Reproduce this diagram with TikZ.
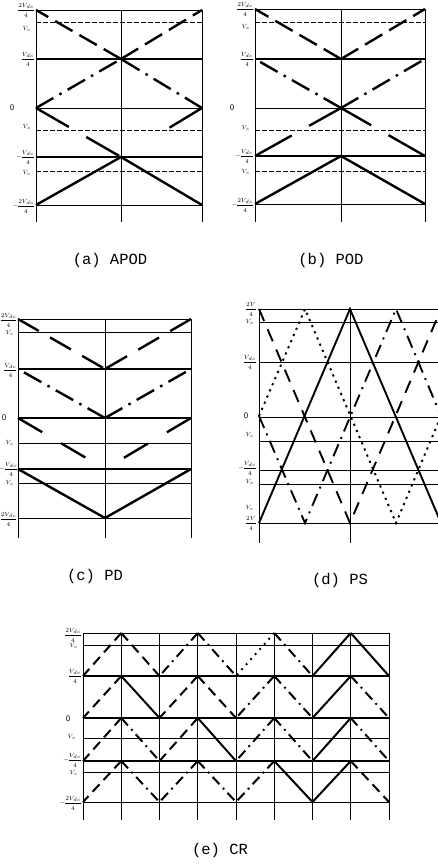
\documentclass[tikz,border=0pt]{standalone}
\usepackage{fontspec}
\newfontfamily\capfont{Liberation Mono}
\begin{document}
\begin{tikzpicture}[x=1pt,y=-1pt,
  gline/.style={line width=0.9pt},
  mline/.style={line width=1.3pt},
  vcl/.style={line width=0.6pt,dash pattern=on 5pt off 2pt},
  vcs/.style={line width=0.7pt},
  car/.style={line width=2.4pt},
  cartwo/.style={line width=1.9pt},
  ecar/.style={line width=2pt},
  cdash/.style={dash pattern=on 20pt off 8pt},
  cdashdot/.style={dash pattern=on 20pt off 7pt on 2.5pt off 7pt},
  clong/.style={dash pattern=on 38pt off 20pt},
  cdots/.style={dash pattern=on 2.2pt off 4.5pt},
  cD/.style={dash pattern=on 10pt off 6pt},
  cM/.style={dash pattern=on 10pt off 5pt on 1.8pt off 5pt},
  cT/.style={dash pattern=on 1.8pt off 5pt},
  cS/.style={solid},
  lab/.style={font={\fontsize{6}{6}\selectfont\nulldelimiterspace=0pt\relax}, inner sep=0pt, anchor=east},
  zero/.style={font=\fontsize{8.5}{8.5}\selectfont\sffamily, inner sep=0pt},
  captxt/.style={font=\capfont\fontsize{15.5}{18}\selectfont, inner sep=0pt}
]
\useasboundingbox (0,0) rectangle (438,867);

% ---------------- (a) APOD ----------------
\foreach \x in {36,121,202} \draw[gline] (\x,10) -- (\x,222);
\foreach \y in {10,108,205} \draw[gline] (36,\y) -- (202,\y);
\foreach \y in {59,157} \draw[mline] (36,\y) -- (202,\y);
\foreach \y in {22,130,171} \draw[vcl] (36,\y) -- (202,\y);
\draw[car,cdash] (121,59) -- (36,10);
\draw[car,cdash] (121,59) -- (202,10);
\draw[car,cdashdot] (36,108) -- (121,59);
\draw[car,cdashdot] (202,108) -- (121,59);
\draw[car,clong] (36,108) -- (121,157);
\draw[car,dash pattern=on 38pt off 100pt] (202,108) -- (121,157);
\draw[car] (36,205) -- (121,157) -- (202,205);
\node[lab] (a1) at (34,10) {$\displaystyle\frac{2V_{dc}}{4}$};
\node[lab] (a2) at (31,29) {$V_c$};
\node[lab] (a3) at (34,59) {$\displaystyle\frac{V_{dc}}{4}$};
\node[zero] (a4) at (12,108) {0};
\node[lab] (a5) at (31,127) {$V_c$};
\node[lab] (a6) at (34,157) {$\displaystyle-\frac{V_{dc}}{4}$};
\node[lab] (a7) at (31,173) {$V_c$};
\node[lab] (a8) at (34,206) {$\displaystyle-\frac{2V_{dc}}{4}$};
\node[captxt] (capa) at (110,260) {(a) APOD};

% ---------------- (b) POD ----------------
\foreach \x in {255,341,425} \draw[gline] (\x,9) -- (\x,222);
\foreach \y in {9,108,204} \draw[gline] (255,\y) -- (425,\y);
\foreach \y in {59,156} \draw[mline] (255,\y) -- (425,\y);
\foreach \y in {22,130,171} \draw[vcl] (255,\y) -- (425,\y);
\draw[car,cdash] (341,59) -- (255,9);
\draw[car,cdash] (341,59) -- (425,9);
\draw[car,cdashdot] (341,108) -- (255,59);
\draw[car,cdashdot] (341,108) -- (425,59);
\draw[car,dash pattern=on 42pt off 20pt] (255,156) -- (341,108);
\draw[car,dash pattern=on 42pt off 20pt] (425,156) -- (341,108);
\draw[car] (255,204) -- (341,156) -- (425,204);
\node[lab] (b1) at (253,9) {$\displaystyle\frac{2V_{dc}}{4}$};
\node[lab] (b2) at (250,27) {$V_c$};
\node[lab] (b3) at (253,59) {$\displaystyle\frac{V_{dc}}{4}$};
\node[zero] (b4) at (232,108) {0};
\node[lab] (b5) at (250,128) {$V_c$};
\node[lab] (b6) at (253,156) {$\displaystyle-\frac{V_{dc}}{4}$};
\node[lab] (b7) at (250,172) {$V_c$};
\node[lab] (b8) at (253,205) {$\displaystyle-\frac{2V_{dc}}{4}$};
\node[captxt] (capb) at (331,260) {(b) POD};

% ---------------- (c) PD ----------------
\foreach \x in {18,105,191} \draw[gline] (\x,319) -- (\x,538);
\foreach \y in {319,518} \draw[gline] (18,\y) -- (191,\y);
\foreach \y in {369,418,469} \draw[mline] (18,\y) -- (191,\y);
\foreach \y in {332,443,483} \draw[vcs] (18,\y) -- (191,\y);
\draw[car,dash pattern=on 24pt off 13pt] (18,319) -- (105,369);
\draw[car,dash pattern=on 24pt off 13pt] (191,319) -- (105,369);
\draw[car,cdashdot] (105,418) -- (18,369);
\draw[car,cdashdot] (105,418) -- (191,369);
\draw[car,dash pattern=on 28pt off 22pt] (18,418) -- (105,469);
\draw[car,dash pattern=on 28pt off 22pt] (191,418) -- (105,469);
\draw[car] (18,469) -- (105,518) -- (191,469);
\node[lab] (c1) at (16.5,320) {$\displaystyle\frac{2V_{dc}}{4}$};
\node[lab] (c2) at (14,333) {$V_c$};
\node[lab] (c3) at (16.5,370) {$\displaystyle\frac{V_{dc}}{4}$};
\node[zero] (c4) at (4,418) {0};
\node[lab] (c5) at (14,443) {$V_c$};
\node[lab] (c6) at (17,469) {$\displaystyle{-}\frac{V_{dc}}{4}$};
\node[lab] (c7) at (14,483) {$V_c$};
\node[lab] (c8) at (16.5,519) {$\displaystyle\frac{2V_{dc}}{4}$};
\node[captxt] (capc) at (95,576) {(c) PD};

% ---------------- (d) PS ----------------
\begin{scope}
\clip (240,290) rectangle (438,560);
\foreach \x in {259,350} \draw[gline] (\x,309) -- (\x,543);
\foreach \y in {309,322,362,417,441,470,484,523} \draw[gline] (259,\y) -- (445,\y);
\draw[cartwo] (259,523) -- (350,309) -- (441,523);
\draw[cartwo,cdots] (259,416) -- (305,309) -- (396,523) -- (441,416);
\draw[cartwo,dash pattern=on 13pt off 9pt] (259,309) -- (350,523) -- (441,309);
\draw[cartwo,dash pattern=on 13pt off 6pt on 2pt off 6pt] (259,416) -- (305,523) -- (396,309) -- (441,416);
\end{scope}
\node[lab] (d1) at (256,309) {$\displaystyle\frac{2V}{4}$};
\node[lab] (d2) at (254,322) {$V_c$};
\node[lab] (d3) at (256,362) {$\displaystyle\frac{V_{dc}}{4}$};
\node[zero] (d4) at (246,416) {0};
\node[lab] (d5) at (254,435) {$V_c$};
\node[lab] (d6) at (256,468) {$\displaystyle-\frac{V_{dc}}{4}$};
\node[lab] (d7) at (254,482) {$V_c$};
\node[lab] (d8) at (254,508) {$V_c$};
\node[lab] (d9) at (256,523) {$\displaystyle\frac{2V}{4}$};
\node[captxt] (capd) at (340,580) {(d) PS};

% ---------------- (e) CR ----------------
\foreach \k in {0,...,8} \draw[gline] ({83+38.25*\k},633) -- ({83+38.25*\k},820);
\foreach \y in {633,802} \draw[gline] (83,\y) -- (389,\y);
\foreach \y in {676,718,761} \draw[mline] (83,\y) -- (389,\y);
\foreach \y in {645,738,772} \draw[vcs] (83,\y) -- (389,\y);
\foreach \t/\b/\L in {633/676/{cD,cD,cM,cM,cT,cM,cS,cS},
                      676/718/{cD,cS,cD,cD,cM,cM,cS,cM},
                      718/761/{cD,cM,cD,cS,cM,cM,cS,cM},
                      761/802/{cD,cM,cM,cM,cM,cS,cS,cD}}{
  \foreach \s [count=\j from 0] in \L {
    \pgfmathsetmacro\xa{83+38.25*\j}
    \pgfmathsetmacro\xb{83+38.25*(\j+1)}
    \ifodd\j\relax
      \draw[ecar,\s] (\xa,\t) -- (\xb,\b);
    \else
      \draw[ecar,\s] (\xb,\t) -- (\xa,\b);
    \fi
  }
}
\node[lab] (e1) at (81,635) {$\displaystyle\frac{2V_{dc}}{4}$};
\node[lab] (e2) at (78,646) {$V_c$};
\node[lab] (e3) at (81,676) {$\displaystyle\frac{V_{dc}}{4}$};
\node[zero] (e4) at (68,719) {0};
\node[lab] (e5) at (76,737) {$V_c$};
\node[lab] (e6) at (81,760) {$\displaystyle-\frac{V_{dc}}{4}$};
\node[lab] (e7) at (78,773) {$V_c$};
\node[lab] (e8) at (81,803) {$\displaystyle-\frac{2V_{dc}}{4}$};
\node[captxt] (cape) at (220,850) {(e) CR};
\end{tikzpicture}
\end{document}
